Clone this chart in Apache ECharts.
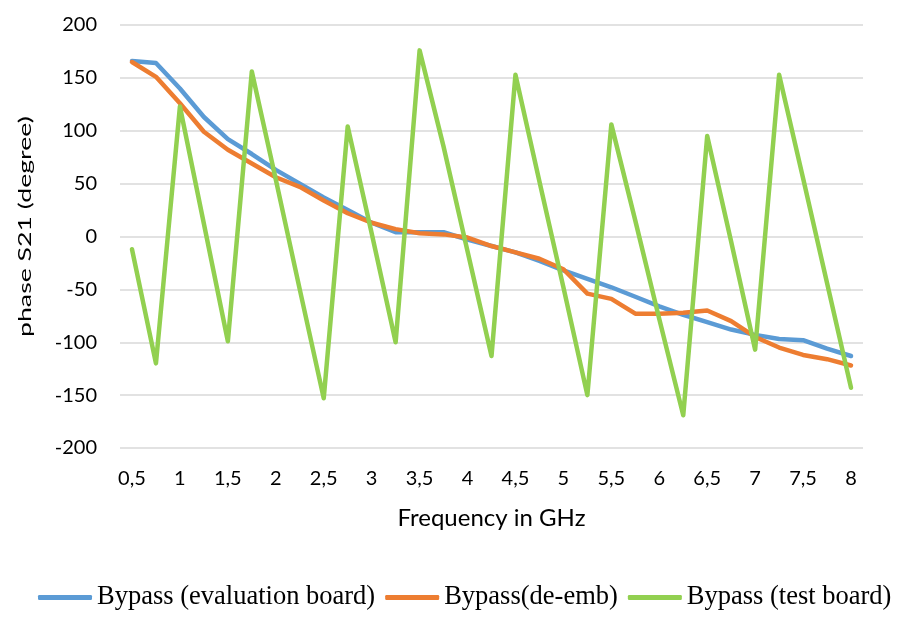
<!DOCTYPE html>
<html>
<head>
<meta charset="utf-8">
<script src="https://cdn.jsdelivr.net/npm/echarts@6/dist/echarts.min.js"></script>
<style>html,body{margin:0;padding:0;background:#fff}#c{width:900px;height:624px}</style>
</head>
<body>
<div id="c"></div>
<script>
var freqs = [0.5,0.75,1,1.25,1.5,1.75,2,2.25,2.5,2.75,3,3.25,3.5,3.75,4,4.25,4.5,4.75,5,5.25,5.5,5.75,6,6.25,6.5,6.75,7,7.25,7.5,7.75,8];
var evalBoard = [166,164,140,113,92,78,63,50,37,25,13,4,4,4,-3,-9,-15,-23,-32,-40,-48,-57,-66,-74,-81,-88,-93,-97,-98,-106,-113];
var deEmb = [165,151,126,99,82,69,56,47,34,22,13,7,3,2,-1,-9,-15,-21,-31,-54,-59,-73,-73,-72,-70,-80,-95,-105,-112,-116,-122];
var testBoard = [-12,-120,123,12,-99,156,54,-50,-153,104,3,-100,176,85,-14,-113,153,52,-48,-150,106,15,-78,-169,95,-5,-107,153,55,-44,-143];
var seriesNames = ['Bypass (evaluation board)','Bypass(de-emb)','Bypass (test board)'];
var xTitle = 'Frequency in GHz';
var yTitle = 'phase S21 (degree)';
var cats = freqs.map(function(f){return String(f).replace('.', ',');});

var chart = echarts.init(document.getElementById('c'), null, {renderer:'canvas'});
var sansFont = 'Lato';
chart.setOption({
  animation:false,
  backgroundColor:'#ffffff',
  grid:{left:120,right:37,top:25,bottom:176,containLabel:false},
  legend:{
    left:38, right:0, top:584, padding:0, itemGap:10, itemWidth:54, itemHeight:5, icon:'roundRect',
    textStyle:{fontFamily:'Liberation Serif',fontSize:26.5,color:'#000'},
    data:seriesNames
  },
  graphic:[{
    type:'text', x:25.5, y:226.5, rotation:Math.PI/2, scaleX:1.16, scaleY:0.72,
    style:{text:yTitle, font:'23px Lato', fill:'#000', align:'center', verticalAlign:'middle'}
  }],
  xAxis:{
    type:'category', data:cats, boundaryGap:true,
    name:xTitle, nameLocation:'middle', nameGap:58,
    nameTextStyle:{fontFamily:sansFont,fontSize:24,color:'#000'},
    axisLine:{show:false}, axisTick:{show:false},
    axisLabel:{interval:1,margin:21,fontFamily:sansFont,fontSize:20,color:'#000'}
  },
  yAxis:{
    type:'value', min:-200, max:200, interval:50,
    axisLine:{show:false}, axisTick:{show:false},
    axisLabel:{margin:23,fontFamily:sansFont,fontSize:20,color:'#000'},
    splitLine:{lineStyle:{color:'#d9d9d9',width:1.5}}
  },
  series:[
    {name:seriesNames[0],type:'line',data:evalBoard,showSymbol:false,symbol:'none',lineStyle:{color:'#5B9BD5',width:4.5,cap:'round',join:'round'},itemStyle:{color:'#5B9BD5'}},
    {name:seriesNames[1],type:'line',data:deEmb,showSymbol:false,symbol:'none',lineStyle:{color:'#ED7D31',width:4.5,cap:'round',join:'round'},itemStyle:{color:'#ED7D31'}},
    {name:seriesNames[2],type:'line',data:testBoard,showSymbol:false,symbol:'none',lineStyle:{color:'#92D050',width:4.5,cap:'round',join:'round'},itemStyle:{color:'#92D050'}}
  ]
});
</script>
</body>
</html>
